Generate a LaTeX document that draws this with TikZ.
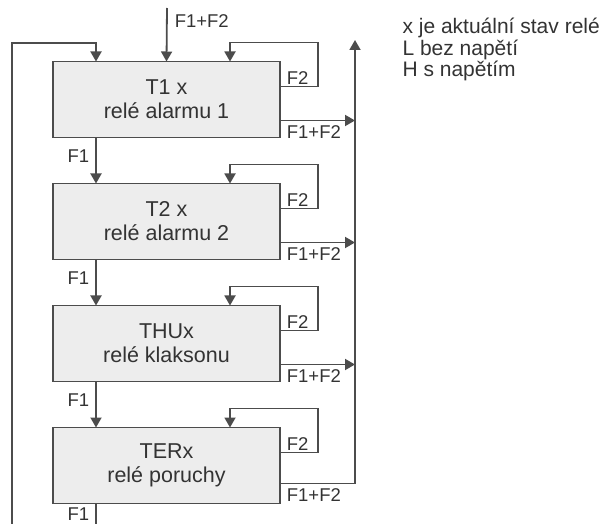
\documentclass[tikz,border=0pt]{standalone}
\usepackage{fontspec}
\setmainfont{Liberation Sans}
\usetikzlibrary{positioning,calc,arrows.meta}

\begin{document}
\begin{tikzpicture}[
		x=1pt, y=-1pt,
		node distance=46pt,
		every node/.style={font=\fontsize{18.5}{21}\selectfont, text=black!80},
		rect/.style={rectangle, draw=black!70, line width=1.8pt, fill=black!7, minimum width=227pt, minimum height=76pt, outer sep=0pt, align=center, font=\fontsize{21.5}{24}\selectfont},
		arrow/.style={-{Triangle[length=10pt,width=11pt]}, line width=1.8pt, draw=black!70},
		line/.style={line width=1.8pt, draw=black!70},
		lab/.style={inner sep=1pt}
	]
	\useasboundingbox (0,0) rectangle (606,524);

	% Nodes
	\node[rect] (T1) at (166.5,99.5) {T1 x\\relé alarmu 1};
	\node[rect, below=of T1] (T2) {T2 x\\relé alarmu 2};
	\node[rect, below=of T2] (THU) {THUx\\relé klaksonu};
	\node[rect, below=of THU] (TER) {TERx\\relé poruchy};

	\node[anchor=north west, align=left, font=\fontsize{21}{21.5}\selectfont] (legend) at (399,15) {x je aktuální stav relé\\L bez napětí\\H s napětím};

	\coordinate (in) at (167,8);
	\coordinate (lbot) at (12,524);
	\coordinate (ltop) at (12,43);
	\coordinate (rtop) at (355,40);

	% Arrows
	\draw[arrow] (in) -- (T1.north) node[pos=0.24, right, lab, xshift=6pt] {F1+F2};
	\draw[arrow] (lbot) -- (ltop) -| ($(T1.north west)+(43,0)$);

	\foreach \a/\b in {T1/T2, T2/THU, THU/TER}
		\draw[arrow] ($(\a.south west)+(43,0)$) -- ($(\b.north west)+(43,0)$) node[pos=0.4, left, lab, xshift=-5pt] {F1};
	\draw[line] ($(TER.south west)+(43,0)$) -- ++(0,21) node[pos=0.5, left, inner sep=0pt, xshift=-6pt] {F1};

	\foreach \n in {T1, T2, THU, TER}
		\draw[arrow] ($(\n.north east)+(0,25)$) node[above right, lab, xshift=5pt] {F2} -| ($(\n.north east)+(38,-19)$) -| ($(\n.north east)+(-50,0)$);

	\foreach \n in {T1, T2, THU}
		\draw[arrow] ($(\n.south east)+(0,-17)$) node[below right, lab, xshift=5pt, yshift=-3pt] {F1+F2} -- ++(75,0);
	\draw[arrow] ($(TER.south east)+(0,-20)$) node[below right, lab, xshift=5pt, yshift=-3pt] {F1+F2} -| (rtop);

\end{tikzpicture}
\end{document}
